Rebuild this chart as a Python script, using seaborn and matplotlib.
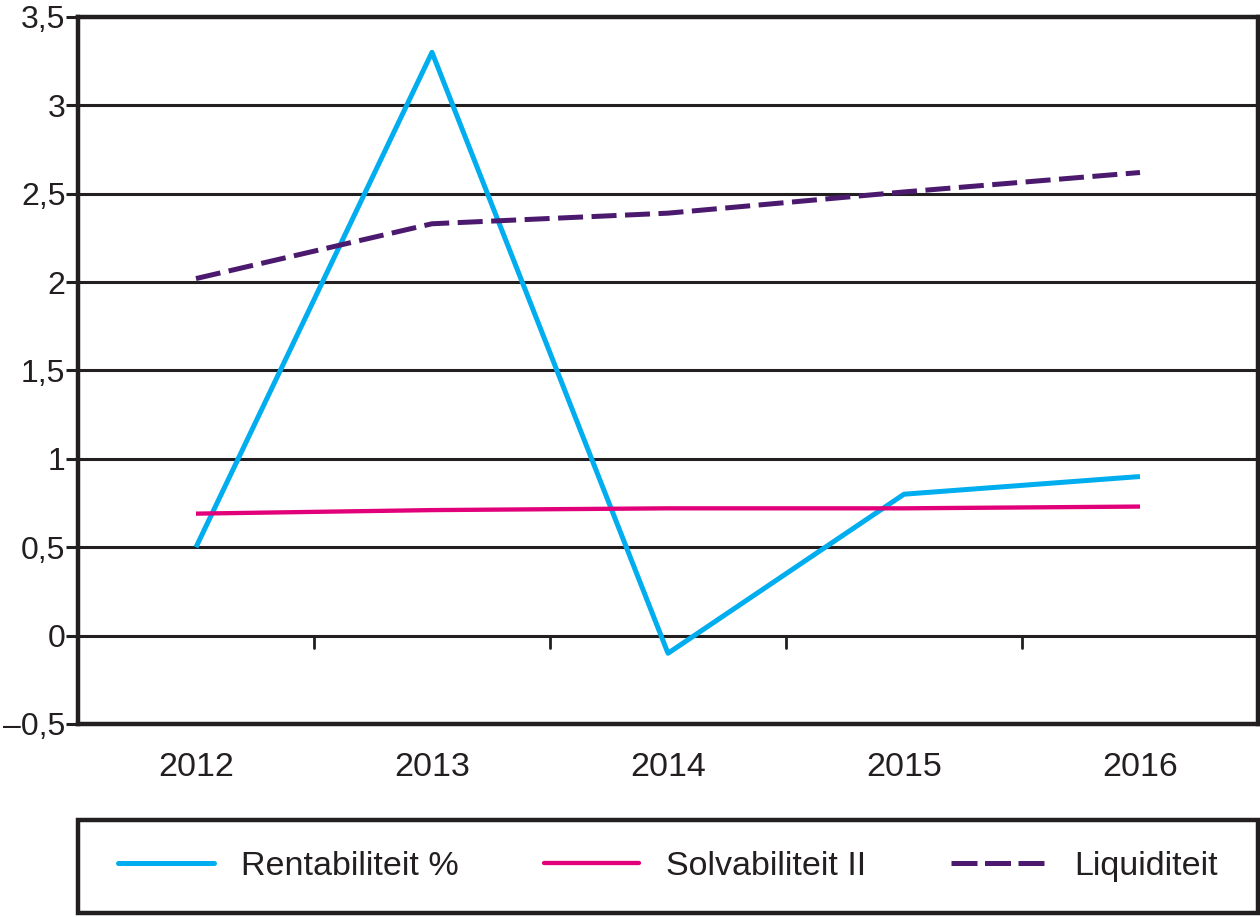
import matplotlib
matplotlib.use("Agg")
import matplotlib.pyplot as plt
import pandas as pd
import seaborn as sns
from matplotlib.ticker import FuncFormatter

# Data
years = ['2012', '2013', '2014', '2015', '2016']
rentabiliteit = [0.5, 3.3, -0.1, 0.8, 0.9]
solvabiliteit = [0.69, 0.71, 0.72, 0.72, 0.73]
liquiditeit = [2.02, 2.33, 2.39, 2.51, 2.62]

series_names = ['Rentabiliteit %', 'Solvabiliteit II', 'Liquiditeit']
colors = ['#00AEEF', '#E2007A', '#4B1A6E']

# long format for seaborn
df = pd.DataFrame({
    'pos': list(range(len(years))) * 3,
    'value': rentabiliteit + solvabiliteit + liquiditeit,
    'serie': [s for s in series_names for _ in years],
})

sns.set_theme(style='white')
plt.rcParams['font.family'] = ['Liberation Sans', 'DejaVu Sans']
ink = '#231F20'

fig = plt.figure(figsize=(12.6, 9.17), dpi=100)
ax = fig.add_axes([0.0619, 0.2105, 0.9365, 0.771])

sns.lineplot(data=df, x='pos', y='value', hue='serie', style='serie',
             palette=dict(zip(series_names, colors)),
             dashes={'Rentabiliteit %': '', 'Solvabiliteit II': '',
                     'Liquiditeit': (5, 1.7)},
             linewidth=3.6, ax=ax, legend=False)
for ln in ax.lines:
    ln.set_solid_capstyle('butt')
    ln.set_dash_capstyle('butt')
ax.lines[1].set_linewidth(3.1)

ax.set_xlim(-0.5, len(years) - 0.5)
ax.set_ylim(-0.5, 3.5)
ax.set_yticks([-0.5, 0, 0.5, 1, 1.5, 2, 2.5, 3, 3.5])
ax.yaxis.set_major_formatter(FuncFormatter(
    lambda v, p: ('%g' % v).replace('.', ',').replace('-', '\u2013')))
ax.set_xticks(range(len(years)))
ax.set_xticklabels(years)
ax.set_xlabel('')
ax.set_ylabel('')

for y in [0, 0.5, 1, 1.5, 2, 2.5, 3]:
    ax.axhline(y, color=ink, linewidth=2.2, zorder=0)

# small separators under the zero line between categories
for xs in [0.5, 1.5, 2.5, 3.5]:
    ax.plot([xs, xs], [0, -0.07], color=ink, linewidth=2.0)

for sp in ax.spines.values():
    sp.set_visible(True)
    sp.set_color(ink)
    sp.set_linewidth(3.2)

ax.tick_params(axis='y', direction='out', length=9, width=2.2,
               color=ink, labelsize=23, pad=0, left=True)
ax.tick_params(axis='x', length=0, labelsize=24.5, pad=20)
for t in ax.get_xticklabels() + ax.get_yticklabels():
    t.set_color(ink)

# legend box at the bottom
handles = [plt.Line2D([], [], color=colors[0], linewidth=3.6),
           plt.Line2D([], [], color=colors[1], linewidth=3.1),
           plt.Line2D([], [], color=colors[2], linewidth=3.6,
                      linestyle=(0, (5.2, 1.5)))]
leg = fig.legend(handles, series_names, loc='center',
                 bbox_to_anchor=(0.0619, 0.0044, 0.9365, 0.1014),
                 ncol=3, frameon=False, fontsize=24.5,
                 handlelength=2.8, handletextpad=0.8, columnspacing=2.5,
                 borderaxespad=0, labelcolor=ink)
frame = plt.Rectangle((0.0619, 0.0044), 0.9365, 0.1014,
                      transform=fig.transFigure, fill=False,
                      edgecolor=ink, linewidth=3.2)
fig.add_artist(frame)

fig.savefig('out.png', dpi=100)
